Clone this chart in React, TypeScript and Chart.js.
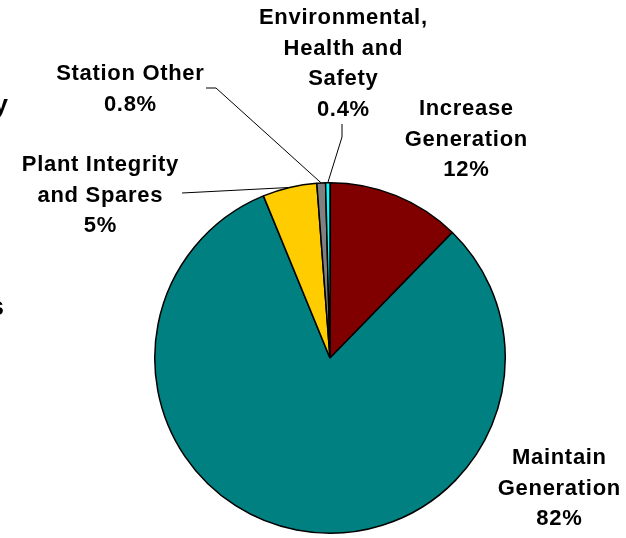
import React, { useEffect, useRef } from "react";
import { Chart, registerables } from "chart.js";

Chart.register(...registerables);

// ---- data ----
const categories = [
  "Increase Generation",
  "Maintain Generation",
  "Plant Integrity and Spares",
  "Station Other",
  "Environmental, Health and Safety",
];
const values = [12.3, 81.5, 5.0, 0.8, 0.4];
const percentLabels = ["12%", "82%", "5%", "0.8%", "0.4%"];
const labelLines = [
  ["Increase", "Generation"],
  ["Maintain", "Generation"],
  ["Plant Integrity", "and Spares"],
  ["Station Other"],
  ["Environmental,", "Health and", "Safety"],
];
const sliceColors = ["#800000", "#008080", "#FFCC00", "#808080", "#00FFFF"];
// fragments of clipped slide text at the left edge
const clippedFragments = ["y", "s"];

// ---- layout (label placement, not data) ----
const labelLayout = [
  { x: 466, y: 109, leader: null as null | number[][] },
  { x: 559, y: 458, leader: null as null | number[][] },
  { x: 100, y: 165, leader: [[182, 193]] },
  { x: 130, y: 74, leader: [[206, 88], [216, 88]] },
  { x: 343, y: 18, leader: [[342, 124], [342, 137]] },
];
const fragmentLayout = [
  { x: 8, y: 106 },
  { x: 4, y: 308 },
];
const LINE_H = 30.5;

const labelPlugin = {
  id: "sliceLabels",
  afterDatasetsDraw(chart: any) {
    const ctx = chart.ctx as CanvasRenderingContext2D;
    const meta = chart.getDatasetMeta(0);
    ctx.save();
    // leader lines
    ctx.strokeStyle = "#000";
    ctx.lineWidth = 1;
    meta.data.forEach((arc: any, i: number) => {
      const lay = labelLayout[i];
      if (!lay.leader) return;
      const mid = (arc.startAngle + arc.endAngle) / 2;
      const px = arc.x + Math.cos(mid) * arc.outerRadius;
      const py = arc.y + Math.sin(mid) * arc.outerRadius;
      ctx.beginPath();
      lay.leader.forEach((p, k) => {
        if (k === 0) ctx.moveTo(p[0], p[1]);
        else ctx.lineTo(p[0], p[1]);
      });
      ctx.lineTo(px, py);
      ctx.stroke();
    });
    // texts
    ctx.fillStyle = "#000";
    ctx.font = "bold 22px 'Liberation Sans', Arial, sans-serif";
    (ctx as any).letterSpacing = "0.7px";
    ctx.textAlign = "center";
    ctx.textBaseline = "middle";
    labelLines.forEach((lines, i) => {
      const lay = labelLayout[i];
      const all = [...lines, percentLabels[i]];
      all.forEach((t, k) => {
        ctx.fillText(t, lay.x + 0.35, lay.y + k * LINE_H);
      });
    });
    (ctx as any).letterSpacing = "0px";
    ctx.font = "bold 26px 'Liberation Sans', Arial, sans-serif";
    ctx.textAlign = "right";
    clippedFragments.forEach((t, i) => {
      ctx.fillText(t, fragmentLayout[i].x, fragmentLayout[i].y);
    });
    ctx.restore();
  },
};

export default function App() {
  const ref = useRef<HTMLCanvasElement | null>(null);
  useEffect(() => {
    if (!ref.current) return;
    const chart = new Chart(ref.current, {
      type: "pie",
      data: {
        labels: categories,
        datasets: [
          {
            data: values,
            backgroundColor: sliceColors,
            borderColor: "#000",
            borderWidth: 1.5,
          },
        ],
      },
      options: {
        responsive: false,
        animation: false,
        layout: { padding: { left: 154, right: 120, top: 182, bottom: 4 } },
        plugins: {
          legend: { display: false },
          title: { display: false },
          tooltip: { enabled: false },
        },
      },
      plugins: [labelPlugin],
    });
    return () => chart.destroy();
  }, []);
  return (
    <div style={{ position: "absolute", left: 0, top: 0, width: 626, height: 538, background: "#fff" }}>
      <canvas ref={ref} width={626} height={538} style={{ display: "block" }} />
    </div>
  );
}
